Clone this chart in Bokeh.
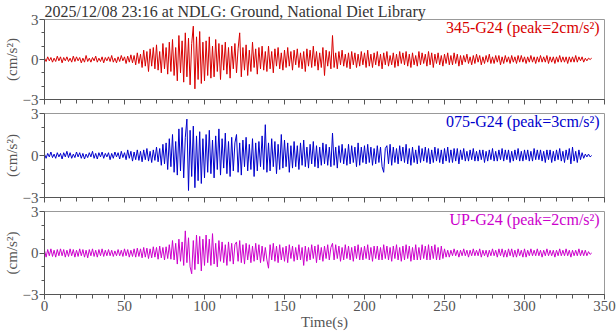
from bokeh.plotting import figure
from bokeh.layouts import column
from bokeh.models import Range1d, FixedTicker, Label
from bokeh.embed import file_html
from bokeh.resources import INLINE

title_text = "2025/12/08 23:16 at NDLG: Ground, National Diet Library"
channel_labels = ["345-G24 (peak=2cm/s\u00b2)", "075-G24 (peak=3cm/s\u00b2)", "UP-G24 (peak=2cm/s\u00b2)"]
channel_colors = ["#d80000", "#0000cc", "#cc00cc"]
y_label = "(cm/s\u00b2)"
x_label = "Time(s)"
x_ticks = [0, 50, 100, 150, 200, 250, 300, 350]
x_minor = list(range(0, 351, 10))
y_ticks = [-3, 0, 3]
y_minor = [-2, -1, 1, 2]
dt = 1.0  # sample spacing (s) of the values

acc_345 = [
    0.1,-0.15,0.2,-0.1,0.15,-0.2,0.1,-0.15,0.25,-0.1,0.2,-0.25,0.15,-0.1,0.2,-0.15,0.1,-0.2,0.25,-0.15,
    0.2,-0.1,0.15,-0.25,0.1,-0.2,0.3,-0.15,0.1,-0.2,0.15,-0.1,0.25,-0.2,0.1,-0.15,0.2,-0.25,0.15,-0.1,
    0.2,-0.15,0.3,-0.2,0.1,-0.25,0.2,-0.15,0.3,-0.1,0.2,-0.3,0.25,-0.2,0.35,-0.25,0.3,-0.4,0.5,-0.3,
    0.4,-0.6,0.7,-0.5,0.6,-0.9,0.8,-0.5,0.9,-0.7,1.1,-0.8,0.6,-1.0,1.2,-0.7,0.9,-1.1,1.3,-0.9,
    1.5,-1.2,0.9,-1.6,1.8,-1.0,1.4,-1.7,2.0,-1.3,1.6,-1.9,1.2,2.5,-2.2,1.7,-1.5,2.1,-1.8,1.3,
    -1.6,1.4,-1.2,1.7,-1.4,1.0,-1.3,1.5,-0.9,1.2,-1.5,1.1,-0.8,1.3,-1.1,0.9,-1.4,1.0,-0.7,1.2,
    -1.0,0.8,2.0,-1.3,0.9,-0.8,1.1,-1.2,0.7,-0.9,1.3,-0.6,0.8,-1.1,0.9,-0.7,1.0,-0.8,0.6,-0.9,
    1.0,-0.7,0.6,-1.0,0.8,-0.5,0.9,-0.7,0.5,-0.8,0.7,-0.6,0.9,-0.5,0.6,-0.8,0.7,-0.4,0.8,-0.6,
    0.5,-0.7,0.6,-0.9,0.8,-0.5,0.7,-0.6,1.0,-0.5,0.6,-0.8,0.5,-0.6,0.9,-1.2,0.7,-0.5,0.6,-0.7,
    1.8,-0.6,0.5,-0.7,0.6,-0.4,0.7,-0.5,0.4,-0.6,0.5,-0.7,0.6,-0.4,0.5,-0.6,0.4,-0.5,0.6,-0.4,
    0.5,-0.6,0.7,-0.5,0.4,-0.6,0.5,-0.4,0.6,-0.5,0.4,-0.7,0.5,-0.4,0.6,-0.5,0.3,-0.4,0.5,-0.6,
    0.4,-0.5,0.6,-0.3,0.5,-0.4,0.6,-0.5,0.4,-0.6,0.5,-0.4,0.3,-0.5,0.6,-0.4,0.5,-0.3,0.4,-0.5,
    0.6,-0.4,0.5,-0.6,0.4,-0.3,0.5,-0.4,0.3,-0.5,0.4,-0.3,0.5,-0.4,0.3,-0.4,0.5,-0.3,0.4,-0.5,
    0.3,-0.4,0.3,-0.2,0.4,-0.3,0.2,-0.4,0.3,-0.3,0.4,-0.2,0.3,-0.4,0.2,-0.3,0.3,-0.2,0.4,-0.3,
    0.2,-0.3,0.3,-0.2,0.3,-0.4,0.2,-0.3,0.3,-0.2,0.2,-0.3,0.3,-0.2,0.2,-0.3,0.3,-0.2,0.3,-0.2,
    0.2,-0.3,0.2,-0.2,0.3,-0.2,0.2,-0.3,0.2,-0.2,0.3,-0.2,0.2,-0.2,0.3,-0.3,0.2,-0.2,0.2,-0.3,
    0.2,-0.2,0.3,-0.2,0.2,-0.2,0.2,-0.3,0.2,-0.2,0.2,-0.2,0.3,-0.2,0.2,-0.1,0.2,-0.2,0.1,-0.1,
    0.1,0.0,0.1,
]

acc_075 = [
    0.1,-0.2,0.15,-0.1,0.25,-0.15,0.1,-0.2,0.2,-0.1,0.15,-0.25,0.2,-0.1,0.3,-0.15,0.2,-0.2,0.1,-0.15,
    0.25,-0.1,0.2,-0.2,0.15,-0.25,0.1,-0.15,0.2,-0.1,0.3,-0.2,0.15,-0.25,0.2,-0.1,0.25,-0.2,0.15,-0.1,
    0.2,-0.3,0.15,-0.2,0.25,-0.1,0.2,-0.25,0.3,-0.15,0.2,-0.3,0.4,-0.2,0.3,-0.4,0.25,-0.3,0.4,-0.35,
    0.3,-0.45,0.4,-0.3,0.5,-0.4,0.3,-0.5,0.4,-0.35,0.6,-0.45,0.5,-0.7,0.8,-0.6,0.9,-1.0,1.2,-0.8,
    1.5,-1.2,1.0,-1.4,1.9,-1.1,2.0,-1.6,1.3,2.6,-2.5,1.8,-1.5,2.1,-2.3,1.4,-1.8,1.7,-2.0,1.2,
    -1.6,1.5,-1.2,1.8,-1.3,1.1,-1.6,1.4,-1.0,1.9,-1.4,1.2,-0.9,1.6,-1.3,1.0,-1.5,1.3,-1.1,0.9,
    1.5,-1.2,0.9,-1.4,1.1,-0.8,1.3,-1.1,0.8,-1.0,1.2,-1.5,0.9,-1.1,1.0,-0.8,1.4,-1.0,2.2,-1.2,
    0.9,-1.1,1.2,-0.8,1.0,-1.3,0.8,-1.0,1.5,-0.9,1.1,-0.8,0.9,-1.2,0.7,-0.9,1.0,-0.8,0.7,-1.0,
    0.9,-0.7,1.1,-0.8,0.6,-0.9,0.8,-0.6,1.0,-0.8,0.7,-0.9,0.6,-0.7,0.9,-0.6,0.8,-0.7,0.6,-0.8,
    1.6,-0.7,0.6,-0.9,0.7,-0.5,0.8,-0.6,0.5,-0.7,0.8,-0.6,0.7,-0.5,0.6,-0.8,0.9,-0.7,0.6,-0.5,
    0.7,-0.6,0.8,-0.5,0.6,-0.7,0.5,-0.6,0.7,-0.5,0.6,-0.8,-1.2,0.5,0.7,-0.6,0.8,-0.7,0.6,-0.5,
    0.5,-0.6,0.7,-0.4,0.6,-0.5,0.8,-0.6,0.5,-0.7,0.6,-0.5,0.4,-0.6,0.7,-0.5,0.5,-0.4,0.6,-0.5,
    0.5,-0.6,0.4,-0.5,0.6,-0.4,0.5,-0.5,0.4,-0.6,0.5,-0.4,0.6,-0.5,0.4,-0.5,0.5,-0.4,0.5,-0.6,
    0.4,-0.3,0.5,-0.4,0.3,-0.4,0.4,-0.3,0.5,-0.4,0.3,-0.4,0.4,-0.3,0.4,-0.5,0.3,-0.4,0.4,-0.3,
    0.5,-0.4,0.3,-0.4,0.4,-0.3,0.5,-0.4,0.4,-0.3,0.4,-0.5,0.3,-0.4,0.4,-0.3,0.5,-0.4,0.3,-0.4,
    0.4,-0.3,0.4,-0.4,0.3,-0.4,0.5,-0.3,0.4,-0.3,0.4,-0.4,0.3,-0.5,0.4,-0.3,0.4,-0.5,0.3,-0.4,
    0.4,-0.3,0.5,-0.4,0.3,-0.5,0.4,-0.3,0.5,-0.6,0.6,-0.4,0.3,-0.5,0.4,-0.3,0.2,-0.2,0.1,-0.1,
    0.1,-0.1,0.0,
]

acc_up = [
    0.2,-0.3,0.25,-0.2,0.3,-0.25,0.2,-0.3,0.25,-0.2,0.3,-0.2,0.25,-0.3,0.2,-0.25,0.3,-0.2,0.25,-0.3,
    0.2,-0.25,0.3,-0.2,0.25,-0.3,0.2,-0.35,0.25,-0.2,0.3,-0.25,0.2,-0.3,0.25,-0.2,0.3,-0.25,0.2,-0.2,
    0.25,-0.2,0.2,-0.25,0.15,-0.2,0.25,-0.2,0.2,-0.25,0.3,-0.2,0.25,-0.3,0.2,-0.25,0.3,-0.3,0.35,-0.25,
    0.3,-0.35,0.4,-0.3,0.35,-0.4,0.3,-0.35,0.45,-0.3,0.4,-0.45,0.5,-0.35,0.4,-0.5,0.45,-0.4,0.6,-0.45,
    0.9,-0.5,0.7,-0.8,1.0,-0.6,0.8,-0.9,1.6,-0.7,1.1,-1.0,-1.5,0.9,-1.2,1.3,-0.8,1.2,-1.3,1.0,
    -0.9,1.3,-0.7,1.0,-0.9,1.4,-0.8,0.7,-1.0,0.9,-0.6,0.8,-0.7,0.6,-0.9,0.8,-0.6,0.7,-0.8,0.6,
    0.8,-0.6,0.9,-0.7,0.6,-0.8,0.7,-0.5,0.6,-0.7,0.5,-0.6,0.7,-0.5,0.6,-0.7,0.5,-0.6,0.4,-0.5,
    -1.1,0.6,-0.5,0.7,-0.6,0.5,-0.7,0.6,-0.5,0.4,-0.6,0.5,-0.7,0.6,-0.4,0.5,-0.6,0.4,-0.5,0.6,
    -0.5,0.4,-0.9,0.5,-0.6,0.4,-0.5,0.6,-0.4,0.5,-0.7,0.6,-0.5,0.4,-0.6,0.5,-0.4,0.6,-0.5,0.4,
    0.7,-0.5,0.6,-0.4,0.5,-0.6,0.4,-0.5,0.6,-0.4,0.5,-0.5,0.4,-0.6,0.5,-0.4,0.6,-0.5,0.4,-0.5,
    0.5,-0.4,0.6,-0.5,0.4,-0.6,0.5,-0.4,0.5,-0.5,0.4,-0.5,0.6,-0.4,0.5,-0.5,0.4,-0.6,0.5,-0.4,
    0.6,-0.5,0.4,-0.6,0.5,-0.5,0.6,-0.4,0.5,-0.6,0.4,-0.5,0.6,-0.5,0.4,-0.5,0.6,-0.4,0.5,-0.5,
    0.6,-0.5,0.5,-0.4,0.6,-0.5,0.4,-0.5,0.5,-0.4,0.3,-0.3,0.2,-0.3,0.2,-0.2,0.3,-0.2,0.2,-0.3,
    0.2,-0.2,0.3,-0.2,0.2,-0.3,0.2,-0.2,0.3,-0.2,0.2,-0.2,0.3,-0.3,0.2,-0.2,0.2,-0.3,0.2,-0.2,
    0.3,-0.2,0.2,-0.3,0.3,-0.2,0.3,-0.3,0.2,-0.3,0.3,-0.2,0.3,-0.3,0.2,-0.3,0.3,-0.2,0.2,-0.3,
    0.3,-0.3,0.2,-0.2,0.3,-0.2,0.2,-0.2,0.3,-0.2,0.2,-0.3,0.2,-0.2,0.3,-0.2,0.2,-0.2,0.2,-0.3,
    0.2,-0.2,0.3,-0.2,0.2,-0.2,0.3,-0.2,0.2,-0.3,0.2,-0.2,0.2,-0.2,0.3,-0.2,0.2,-0.2,0.2,-0.2,
    0.1,-0.1,0.0,
]

series = [acc_345, acc_075, acc_up]

FONT = "Liberation Serif"
TXT = "#555555"
AX = "#555555"

heights = [106, 98, 130]
tops = [16, 7, 7]
bottoms = [7, 7, 40]


def make_panel(i, vals):
    last = (i == 2)
    p = figure(width=616, height=heights[i],
               x_range=Range1d(0, 350), y_range=Range1d(-3, 3),
               output_backend="svg", toolbar_location=None,
               min_border_left=42, min_border_right=12,
               min_border_top=tops[i], min_border_bottom=bottoms[i],
               background_fill_color="white", border_fill_color="white")
    p.xgrid.visible = False
    p.ygrid.visible = False
    p.outline_line_color = "#999999"
    p.outline_line_width = 1

    t = [k * dt for k in range(len(vals))]
    p.line(t, vals, line_color=channel_colors[i], line_width=1)

    xa = p.xaxis[0]
    xa.ticker = FixedTicker(ticks=x_ticks, minor_ticks=x_minor)
    xa.axis_line_color = AX
    xa.major_tick_line_color = AX
    xa.minor_tick_line_color = AX
    xa.major_tick_in = 0
    xa.minor_tick_in = 0
    xa.major_tick_out = 5
    xa.minor_tick_out = 4
    xa.major_label_standoff = 1
    xa.major_label_text_font = FONT
    if last:
        xa.major_label_text_color = TXT
        xa.major_label_text_font_size = "15px"
        xa.axis_label = x_label
        xa.axis_label_text_font = FONT
        xa.axis_label_text_font_size = "15px"
        xa.axis_label_text_font_style = "normal"
        xa.axis_label_text_color = TXT
        xa.axis_label_standoff = 0
    else:
        xa.major_label_text_font_size = "1px"
        xa.major_label_text_color = None
        xa.major_label_standoff = 0

    ya = p.yaxis[0]
    ya.ticker = FixedTicker(ticks=y_ticks, minor_ticks=y_minor)
    ya.axis_line_color = AX
    ya.major_tick_line_color = AX
    ya.minor_tick_line_color = AX
    ya.major_tick_in = 0
    ya.minor_tick_in = 0
    ya.major_tick_out = 5
    ya.minor_tick_out = 3
    ya.major_label_standoff = 1
    ya.major_label_text_font = FONT
    ya.major_label_text_font_size = "15px"
    ya.major_label_text_color = TXT
    ya.axis_label = y_label
    ya.axis_label_text_font = FONT
    ya.axis_label_text_font_size = "15px"
    ya.axis_label_text_font_style = "normal"
    ya.axis_label_text_color = TXT
    ya.axis_label_standoff = 0

    p.add_layout(Label(x=347, y=3, y_offset=1, text=channel_labels[i],
                       text_align="right", text_baseline="top",
                       text_font=FONT, text_font_size="16px",
                       text_color=channel_colors[i]))
    if i == 0:
        p.title.text = title_text
        p.title.align = "left"
        p.title.offset = 0
        p.title.standoff = 0
        p.title.text_font = FONT
        p.title.text_font_size = "16px"
        p.title.text_font_style = "normal"
        p.title.text_color = "#333333"
    return p


panels = [make_panel(i, v) for i, v in enumerate(series)]
layout = column(*panels, spacing=0)

open("out.html", "w").write(file_html(layout, INLINE))
